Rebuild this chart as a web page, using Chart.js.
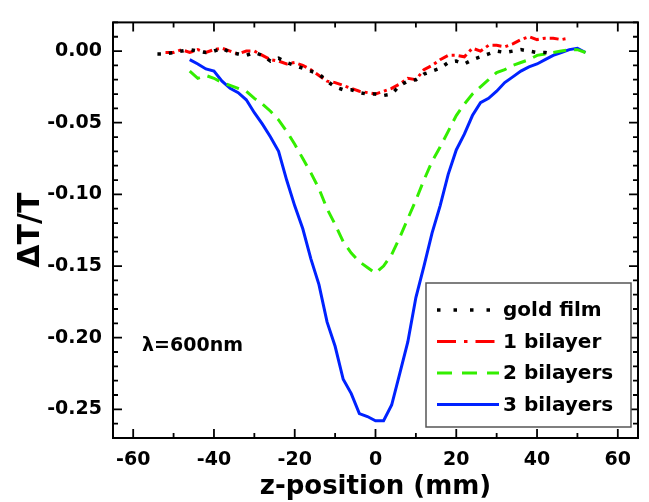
<!DOCTYPE html>
<html>
<head>
<meta charset="utf-8">
<script src="https://cdn.jsdelivr.net/npm/chart.js@4.4.0/dist/chart.umd.min.js"></script>
<style>
  html, body { margin: 0; padding: 0; background: #fff; }
  canvas { display: block; }
</style>
</head>
<body>
<canvas id="zscanChart" width="649" height="502"></canvas>
<script>
// axis ticks
const xTicks = [-60, -40, -20, 0, 20, 40, 60];
const yTicks = [0, -0.05, -0.10, -0.15, -0.20, -0.25];

// gold film
const zGold = [-54, -52, -50, -48, -46, -44, -42, -40, -38, -36, -34, -32, -30, -28, -26, -24, -22, -20, -18, -16,
  -14, -12, -10, -8, -6, -4, -2, 0, 2, 4, 6, 8, 10, 12, 14, 16, 18, 20, 22, 24,
  26, 28, 30, 32, 34, 36, 38, 40, 42, 44];
const gold = [-0.002, -0.002, -0.001, 0.000, 0.001, 0.000, -0.001, 0.000, 0.002, -0.001, -0.002, -0.003, -0.001, -0.003, -0.007, -0.005, -0.008, -0.010, -0.012, -0.014,
  -0.016, -0.021, -0.025, -0.027, -0.027, -0.029, -0.030, -0.030, -0.031, -0.030, -0.024, -0.021, -0.020, -0.016, -0.014, -0.012, -0.008, -0.007, -0.009, -0.006,
  -0.004, -0.002, 0.000, -0.001, 0.000, 0.001, 0.000, -0.001, -0.001, -0.002];

// 1 bilayer
const zOne = [-52, -50, -48, -46, -44, -42, -40, -38, -36, -34, -32, -30, -28, -26, -24, -22, -20, -18, -16, -14,
  -12, -10, -8, -6, -4, -2, 0, 2, 4, 6, 8, 10, 12, 14, 16, 18, 20, 22, 24, 26,
  28, 30, 32, 34, 36, 38, 40, 42, 44, 46, 48];
const one = [-0.001, -0.001, 0.001, -0.001, 0.001, -0.001, 0.001, 0.002, 0.000, -0.002, 0.000, 0.000, -0.003, -0.006, -0.007, -0.009, -0.008, -0.010, -0.013, -0.017,
  -0.021, -0.022, -0.024, -0.026, -0.028, -0.029, -0.030, -0.028, -0.026, -0.023, -0.019, -0.020, -0.013, -0.010, -0.006, -0.003, -0.003, -0.004, 0.002, 0.000,
  0.004, 0.004, 0.003, 0.005, 0.008, 0.010, 0.008, 0.009, 0.009, 0.008, 0.009];

// 2 bilayers
const zTwo = [-46, -44, -42, -40, -38, -36, -34, -32, -30, -28, -26, -24, -22, -20, -18, -16, -14, -12, -10, -8,
  -6, -4, -2, 0, 2, 4, 6, 8, 10, 12, 14, 16, 18, 20, 22, 24, 26, 28, 30, 32,
  34, 36, 38, 40, 42, 44, 46, 48, 50, 52];
const two = [-0.014, -0.019, -0.017, -0.019, -0.022, -0.024, -0.026, -0.028, -0.033, -0.037, -0.042, -0.048, -0.056, -0.065, -0.075, -0.085, -0.096, -0.110, -0.121, -0.133,
  -0.141, -0.147, -0.151, -0.155, -0.150, -0.142, -0.130, -0.117, -0.104, -0.090, -0.077, -0.067, -0.056, -0.045, -0.037, -0.030, -0.025, -0.020, -0.015, -0.013,
  -0.010, -0.008, -0.006, -0.003, -0.002, -0.001, 0.000, 0.001, 0.001, -0.001];

// 3 bilayers
const zThree = [-46, -44, -42, -40, -38, -36, -34, -32, -30, -28, -26, -24, -22, -20, -18, -16, -14, -12, -10, -8,
  -6, -4, -2, 0, 2, 4, 6, 8, 10, 12, 14, 16, 18, 20, 22, 24, 26, 28, 30, 32,
  34, 36, 38, 40, 42, 44, 46, 48, 50, 52];
const three = [-0.006, -0.009, -0.0125, -0.014, -0.021, -0.026, -0.029, -0.034, -0.043, -0.051, -0.060, -0.070, -0.090, -0.108, -0.124, -0.145, -0.163, -0.189, -0.206, -0.229,
  -0.239, -0.253, -0.255, -0.258, -0.258, -0.247, -0.225, -0.203, -0.172, -0.150, -0.127, -0.108, -0.086, -0.069, -0.058, -0.045, -0.036, -0.033, -0.028, -0.022,
  -0.018, -0.014, -0.011, -0.009, -0.006, -0.003, -0.001, 0.001, 0.002, -0.001];

const pts = (zs, vs) => zs.map((z, i) => ({x: z, y: vs[i]}));

Chart.defaults.font.family = "'DejaVu Sans', sans-serif";
Chart.defaults.font.weight = 'bold';
Chart.defaults.color = '#000';

// legend sample dashes (longer than in the plot, as in the original)
const legendDash = [[3.5, 13], [19, 8, 3.5, 8], [15, 10], []];

const framePlugin = {
  id: 'frame',
  afterDraw(chart) {
    const {ctx, chartArea: a, scales: {x, y}} = chart;
    ctx.save();
    ctx.strokeStyle = '#000';
    ctx.lineWidth = 2;
    ctx.lineCap = 'butt';
    ctx.strokeRect(a.left, a.top, a.right - a.left, a.bottom - a.top);

    // inward ticks on all four sides
    ctx.lineWidth = 1.8;
    ctx.beginPath();
    for (let v = -60; v <= 60; v += 10) {
      const px = x.getPixelForValue(v);
      const len = v % 20 === 0 ? 9 : 5;
      ctx.moveTo(px, a.bottom); ctx.lineTo(px, a.bottom - len);
      ctx.moveTo(px, a.top); ctx.lineTo(px, a.top + len);
    }
    for (let i = -27; i <= 2; i++) {
      const py = y.getPixelForValue(i / 100);
      const len = i % 5 === 0 ? 9 : 5;
      ctx.moveTo(a.left, py); ctx.lineTo(a.left + len, py);
      ctx.moveTo(a.right, py); ctx.lineTo(a.right - len, py);
    }
    ctx.stroke();

    // wavelength note
    ctx.fillStyle = '#000';
    ctx.font = "bold 19px 'DejaVu Sans'";
    ctx.textBaseline = 'middle';
    ctx.textAlign = 'left';
    ctx.fillText('λ=600nm', x.getPixelForValue(-57.8), y.getPixelForValue(-0.2055));

    // legend box
    const bx = 426, by = 283, bw = 205, bh = 144;
    ctx.fillStyle = '#fff';
    ctx.fillRect(bx, by, bw, bh);
    ctx.strokeStyle = '#555';
    ctx.lineWidth = 1.5;
    ctx.strokeRect(bx, by, bw, bh);

    ctx.font = "bold 20px 'DejaVu Sans'";
    chart.data.datasets.forEach((ds, i) => {
      const ly = 310 + i * 31.5;
      ctx.strokeStyle = ds.borderColor;
      ctx.lineWidth = ds.borderWidth;
      ctx.setLineDash(legendDash[i]);
      ctx.beginPath();
      ctx.moveTo(437, ly); ctx.lineTo(499, ly);
      ctx.stroke();
      ctx.setLineDash([]);
      ctx.fillStyle = '#000';
      ctx.fillText(ds.label, 503, ly + 1);
    });
    ctx.restore();
  }
};

new Chart(document.getElementById('zscanChart'), {
  type: 'line',
  data: {
    datasets: [
      { label: 'gold film', data: pts(zGold, gold), borderColor: '#000000', borderWidth: 3.5, borderDash: [3.5, 8] },
      { label: '1 bilayer', data: pts(zOne, one), borderColor: '#ff0000', borderWidth: 3, borderDash: [9, 4, 3, 4] },
      { label: '2 bilayers', data: pts(zTwo, two), borderColor: '#33ee00', borderWidth: 3, borderDash: [13, 8] },
      { label: '3 bilayers', data: pts(zThree, three), borderColor: '#0022ff', borderWidth: 3 }
    ]
  },
  options: {
    responsive: false,
    animation: false,
    devicePixelRatio: 1,
    layout: { padding: { top: 12, right: 11, left: 0, bottom: 0 } },
    elements: { point: { radius: 0 }, line: { tension: 0, fill: false } },
    plugins: { legend: { display: false }, tooltip: { enabled: false } },
    scales: {
      x: {
        type: 'linear',
        min: -65, max: 65,
        afterBuildTicks: s => { s.ticks = xTicks.map(v => ({value: v})); },
        afterFit: s => { s.height = 64; },
        grid: { display: false, drawTicks: false },
        border: { display: false },
        ticks: { padding: 11, font: { size: 19 }, maxRotation: 0 },
        title: { display: true, text: 'z-position (mm)', font: { size: 26, lineHeight: 1.1 }, padding: { top: 0, bottom: 0 } }
      },
      y: {
        type: 'linear',
        min: -0.27, max: 0.02,
        afterBuildTicks: s => { s.ticks = yTicks.map(v => ({value: v})); },
        afterFit: s => { s.width = 113; },
        grid: { display: false, drawTicks: false },
        border: { display: false },
        ticks: { padding: 11, font: { size: 19 }, callback: v => v.toFixed(2) },
        title: { display: true, text: 'ΔT/T', font: { size: 30, lineHeight: 1.2 }, padding: { top: 13, bottom: 0 } }
      }
    }
  },
  plugins: [framePlugin]
});
</script>
</body>
</html>
